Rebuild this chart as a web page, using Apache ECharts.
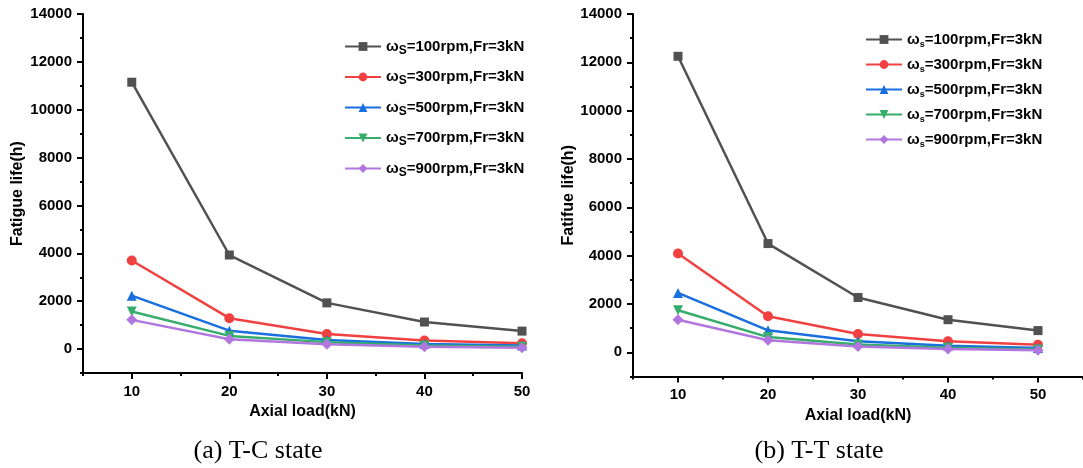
<!DOCTYPE html>
<html>
<head>
<meta charset="utf-8">
<script src="https://cdn.jsdelivr.net/npm/echarts@6/dist/echarts.min.js"></script>
<style>
html,body{margin:0;padding:0;background:#fff;}
#c{width:1083px;height:468px;}
</style>
</head>
<body>
<div id="c"></div>
<script>
// ---- data ----
const axialLoad = [10, 20, 30, 40, 50];
const speeds = ['100', '300', '500', '700', '900'];
// (a) T-C state, fatigue life (h)
const tc100 = [11150, 3930, 1930, 1130, 750];
const tc300 = [3700, 1290, 630, 360, 240];
const tc500 = [2230, 770, 380, 210, 150];
const tc700 = [1570, 550, 290, 150, 100];
const tc900 = [1220, 410, 200, 100, 60];
// (b) T-T state, fatigue life (h)
const tt100 = [12250, 4500, 2270, 1350, 900];
const tt300 = [4090, 1490, 760, 460, 310];
const tt500 = [2460, 910, 460, 270, 180];
const tt700 = [1740, 630, 320, 190, 120];
const tt900 = [1350, 500, 240, 140, 90];
const yMajorTicks = [0, 2000, 4000, 6000, 8000, 10000, 12000, 14000];
const xMajorTicks = [10, 20, 30, 40, 50];
const captions = ['(a) T-C state', '(b) T-T state'];
const yNames = ['Fatigue life(h)', 'Fatifue life(h)'];
const xName = 'Axial load(kN)';

const tcData = [tc100, tc300, tc500, tc700, tc900];
const ttData = [tt100, tt300, tt500, tt700, tt900];

const colors = ['#515151', '#F14040', '#1A6FDF', '#37AD6B', '#B177DE'];
const symbols = ['rect', 'circle', 'triangle', 'path://M0,0L10,0L5,9Z', 'diamond'];
const symSizes = [9, 10, 10, 10, 11];
const FONT = 'Arial, "Liberation Sans", sans-serif';

const chart = echarts.init(document.getElementById('c'), null, {renderer: 'canvas'});

function seriesName(sp) { return 'ω=' + sp + 'rpm,Fr=3kN'; }
const plain = v => String(v);

const grids = [
  {left: 83, top: 14, width: 439, height: 359},
  {left: 633, top: 14, width: 450, height: 362.5}
];
const xMax = [50, 55];

const xAxes = [], yAxes = [];
grids.forEach((g, gi) => {
  xAxes.push({
    gridIndex: gi, type: 'value', position: 'bottom', min: 5, max: xMax[gi], interval: 5,
    axisLine: {show: true, onZero: false, lineStyle: {color: '#000', width: 2}},
    axisTick: {show: true, length: 3, lineStyle: {color: '#000', width: 2}},
    axisLabel: {show: false}, splitLine: {show: false}
  });
  xAxes.push({
    gridIndex: gi, type: 'value', position: 'bottom', min: 5, max: xMax[gi],
    axisLine: {show: false, onZero: false},
    axisTick: {show: true, length: 6, customValues: xMajorTicks, lineStyle: {color: '#000', width: 2}},
    axisLabel: {show: true, customValues: xMajorTicks, formatter: plain, margin: 11, color: '#000', fontFamily: FONT, fontWeight: 'bold', fontSize: 15},
    splitLine: {show: false},
    name: xName, nameLocation: 'middle', nameGap: 27,
    nameTextStyle: {color: '#000', fontFamily: FONT, fontWeight: 'bold', fontSize: 16}
  });
  yAxes.push({
    gridIndex: gi, type: 'value', position: 'left', min: -1000, max: 14000, interval: 1000,
    axisLine: {show: true, onZero: false, lineStyle: {color: '#000', width: 2}},
    axisTick: {show: true, length: 3, lineStyle: {color: '#000', width: 2}},
    axisLabel: {show: false}, splitLine: {show: false}
  });
  yAxes.push({
    gridIndex: gi, type: 'value', position: 'left', min: -1000, max: 14000,
    axisLine: {show: false, onZero: false},
    axisTick: {show: true, length: 6, customValues: yMajorTicks, lineStyle: {color: '#000', width: 2}},
    axisLabel: {show: true, customValues: yMajorTicks, formatter: plain, margin: 11, color: '#000', fontFamily: FONT, fontWeight: 'bold', fontSize: 15},
    splitLine: {show: false},
    name: yNames[gi], nameLocation: 'middle', nameRotate: 90, nameGap: gi === 0 ? 57 : 54,
    nameTextStyle: {color: '#000', fontFamily: FONT, fontWeight: 'bold', fontSize: 16}
  });
});

const series = [];
[tcData, ttData].forEach((set, gi) => {
  set.forEach((vals, si) => {
    series.push({
      type: 'line', name: seriesName(speeds[si]),
      xAxisIndex: gi * 2, yAxisIndex: gi * 2,
      data: axialLoad.map((x, i) => [x, vals[i]]),
      symbol: symbols[si], symbolSize: symSizes[si],
      lineStyle: {color: colors[si], width: 2.5},
      itemStyle: {color: colors[si]},
      z: 2 + si
    });
  });
});

function legendCfg(left, top, gap, sub) {
  return {
    orient: 'vertical', left: left, top: top, itemGap: gap,
    itemWidth: 36, itemHeight: 11,
    data: speeds.map(seriesName),
    formatter: function (name) {
      return '{w|ω}{s|' + sub + '}{t|' + name.slice(1) + '}';
    },
    textStyle: {
      color: '#000', fontFamily: FONT, fontWeight: 'bold', fontSize: 15,
      rich: {
        w: {fontFamily: FONT, fontWeight: 'bold', fontSize: 15, lineHeight: 20, color: '#000'},
        s: {fontFamily: FONT, fontWeight: 'bold', fontSize: sub === 'S' ? 12 : 9, lineHeight: 10, verticalAlign: 'bottom', color: '#000'},
        t: {fontFamily: FONT, fontWeight: 'bold', fontSize: 15, lineHeight: 20, color: '#000'}
      }
    }
  };
}

chart.setOption({
  animation: false,
  backgroundColor: '#fff',
  grid: grids,
  xAxis: xAxes,
  yAxis: yAxes,
  legend: [legendCfg(339, 34, 13, 'S'), legendCfg(860, 27, 7.5, 's')],
  series: series,
  graphic: [
    {type: 'text', x: 258, y: 451, style: {text: captions[0], fontFamily: '"Liberation Serif", "Times New Roman", serif', fontSize: 26, fill: '#000', align: 'center', verticalAlign: 'middle'}},
    {type: 'text', x: 819, y: 451, style: {text: captions[1], fontFamily: '"Liberation Serif", "Times New Roman", serif', fontSize: 26, fill: '#000', align: 'center', verticalAlign: 'middle'}}
  ]
});
</script>
</body>
</html>
